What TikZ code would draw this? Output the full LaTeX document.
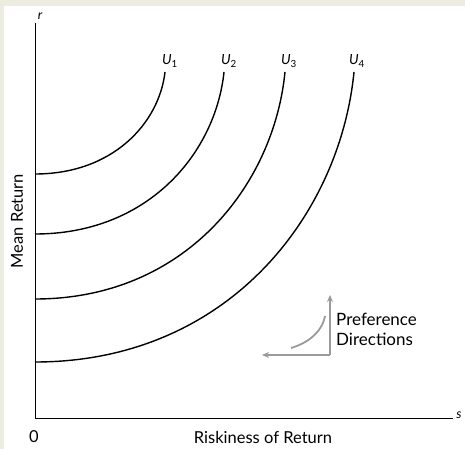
\documentclass[tikz,border=0pt]{standalone}
\usepackage{fontspec}
\setmainfont{Lato}
\usetikzlibrary{arrows.meta, calc}
\definecolor{frame}{HTML}{ECECE0}
\definecolor{pref}{HTML}{9A9A9A}
% utility curve: name, start height, end x, top height
\newcommand{\ucurve}[4]{\coordinate (#1s) at (35,#2); \coordinate (#1e) at (#3,#4);
\draw[curve] (#1s) .. controls ($(#1s)+({0.6*(#3-35)},0)$) and ($(#1e)+({-0.045*(#3-35)},{0.5*(#2-#4)})$) .. (#1e);}

\begin{document}
\begin{tikzpicture}[x = 1pt, y = -1pt, font = \fontsize{16.5}{19}\selectfont,
  curve/.style = {line width = 1.4pt},
  axis/.style = {line width = 0.8pt},
  prefarrow/.style = {pref, line width = 2pt, -{Stealth[length = 7pt, width = 6pt]}}]
\useasboundingbox (0,0) rectangle (465,449);
\fill[frame] (0,0) rectangle (465,449);
\fill[white] (4,6) rectangle (465,449);
% axes
\coordinate (O) at (35,418);
\node[font = \itshape\fontsize{13}{15}\selectfont] (r) at (40,16) {r};
\node[font = \itshape\fontsize{13}{15}\selectfont] (s) at (459,415) {s};
\draw[axis] (r.south -| O) -- (O) -- (s.west |- O);
\node (zero) at (34,437) {0};
\node (xlab) at (263,437) {Riskiness of Return};
\node[rotate = 90] (ylab) at (17,221) {Mean Return};
% indifference curves
\ucurve{a}{174}{165}{72}
\ucurve{b}{234}{224}{72}
\ucurve{c}{299}{285}{72}
\ucurve{d}{362}{354}{72}
\foreach \n/\x in {1/170, 2/229, 3/289, 4/357}
  \node[font = \fontsize{14}{16}\selectfont] (u\n) at (\x,61) {\textit{U}\textsubscript{\n}};
% preference directions
\coordinate (corner) at (330,355);
\coordinate (up) at (330,295);
\coordinate (left) at (262,355);
\draw[prefarrow] (corner) -- (up);
\draw[prefarrow] (corner) -- (left);
\coordinate (ps) at (291,348);
\coordinate (pe) at (325,316);
\draw[pref, line width = 1.8pt] (ps) .. controls (308,343) and (322,332) .. (pe);
\node[anchor = west, align = left, inner sep = 0pt,
  font = \fontsize{17}{20}\selectfont] (pref) at (336,329) {Preference\\Directions};
\end{tikzpicture}
\end{document}
